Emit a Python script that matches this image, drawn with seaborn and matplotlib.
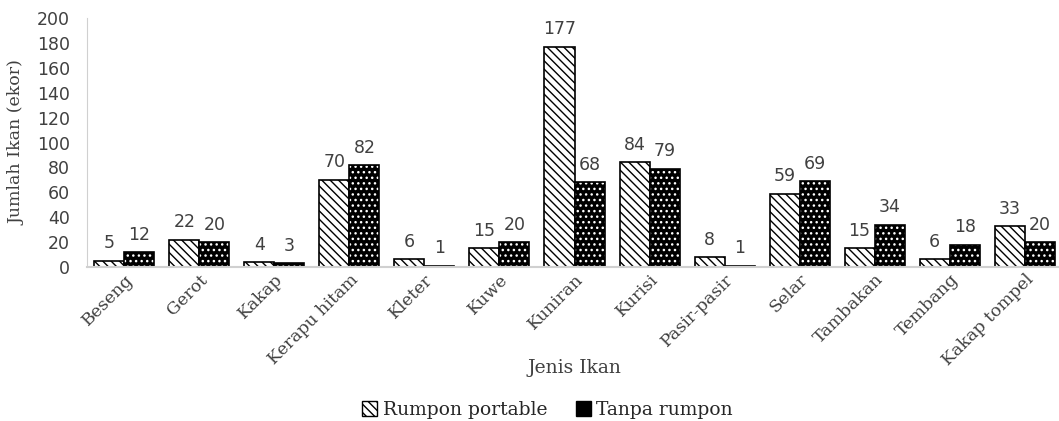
import numpy as np
import pandas as pd
import seaborn as sns
import matplotlib.pyplot as plt
from matplotlib.patches import Rectangle, Patch

# data
jenis = ['Beseng', 'Gerot', 'Kakap', 'Kerapu hitam', 'Kleter', 'Kuwe', 'Kuniran',
         'Kurisi', 'Pasir-pasir', 'Selar', 'Tambakan', 'Tembang', 'Kakap tompel']
rumpon_portable = [5, 22, 4, 70, 6, 15, 177, 84, 8, 59, 15, 6, 33]
tanpa_rumpon = [12, 20, 3, 82, 1, 20, 68, 79, 1, 69, 34, 18, 20]
series = ['Rumpon portable', 'Tanpa rumpon']

df = pd.DataFrame({'jenis': jenis * 2,
                   'jumlah': rumpon_portable + tanpa_rumpon,
                   'kelompok': [series[0]] * len(jenis) + [series[1]] * len(jenis)})

sns.set_style('white')
plt.rcParams['hatch.linewidth'] = 1.0

fig = plt.figure(figsize=(10.59, 4.21), dpi=100)
ax = fig.add_axes([0.082, 0.366, 0.921, 0.591])

sns.barplot(data=df, x='jenis', y='jumlah', hue='kelompok', hue_order=series,
            palette=['white', 'black'], width=0.8, gap=0, edgecolor='black',
            linewidth=1.2, legend=False, ax=ax)

n = len(jenis)
bars = ax.patches[:2 * n]
for i, p in enumerate(bars):
    if i < n:
        p.set_hatch('\\\\\\\\')
        p.set_facecolor('white')
        p.set_edgecolor('black')
    else:
        # black bar with white dots, black outline drawn on top
        p.set_facecolor('black')
        p.set_edgecolor('white')
        p.set_hatch('...')
        p.set_linewidth(0)
        ax.add_patch(Rectangle(p.get_xy(), p.get_width(), p.get_height(),
                               fill=False, edgecolor='black', linewidth=1.2))

for c in ax.containers:
    ax.bar_label(c, padding=6, fontsize=12.5, color='#404040', family='DejaVu Sans')

ax.set_ylim(0, 200)
ax.set_yticks(np.arange(0, 201, 20))
ax.set_xlim(-0.5, n - 0.5)
ax.tick_params(axis='y', labelsize=12.5, labelcolor='#404040', length=0, pad=12)
ax.tick_params(axis='x', length=0, pad=3)
plt.setp(ax.get_xticklabels(), rotation=45, ha='right', rotation_mode='anchor',
         family='DejaVu Serif', fontsize=12.5, color='#404040')

ax.set_xlabel('Jenis Ikan', family='DejaVu Serif', fontsize=13.5, color='#404040')
ax.xaxis.set_label_coords(0.5, -0.37)
ax.set_ylabel('Jumlah Ikan (ekor)', family='DejaVu Serif', fontsize=12.5, color='#404040',
              labelpad=8)

for s in ['top', 'right']:
    ax.spines[s].set_visible(False)
ax.spines['left'].set_color('#d0d0d0')
ax.spines['bottom'].set_color('#d0d0d0')
ax.spines['bottom'].set_linewidth(1.5)

handles = [Patch(facecolor='white', edgecolor='black', hatch='\\\\\\\\'),
           Patch(facecolor='black', edgecolor='black')]
fig.legend(handles, series, loc='lower center', bbox_to_anchor=(0.517, -0.035), ncol=2,
           frameon=False, handlelength=0.8, handleheight=0.8, handletextpad=0.3,
           columnspacing=1.5, prop={'family': 'DejaVu Serif', 'size': 13.5})

fig.savefig('out.png', dpi=100)
